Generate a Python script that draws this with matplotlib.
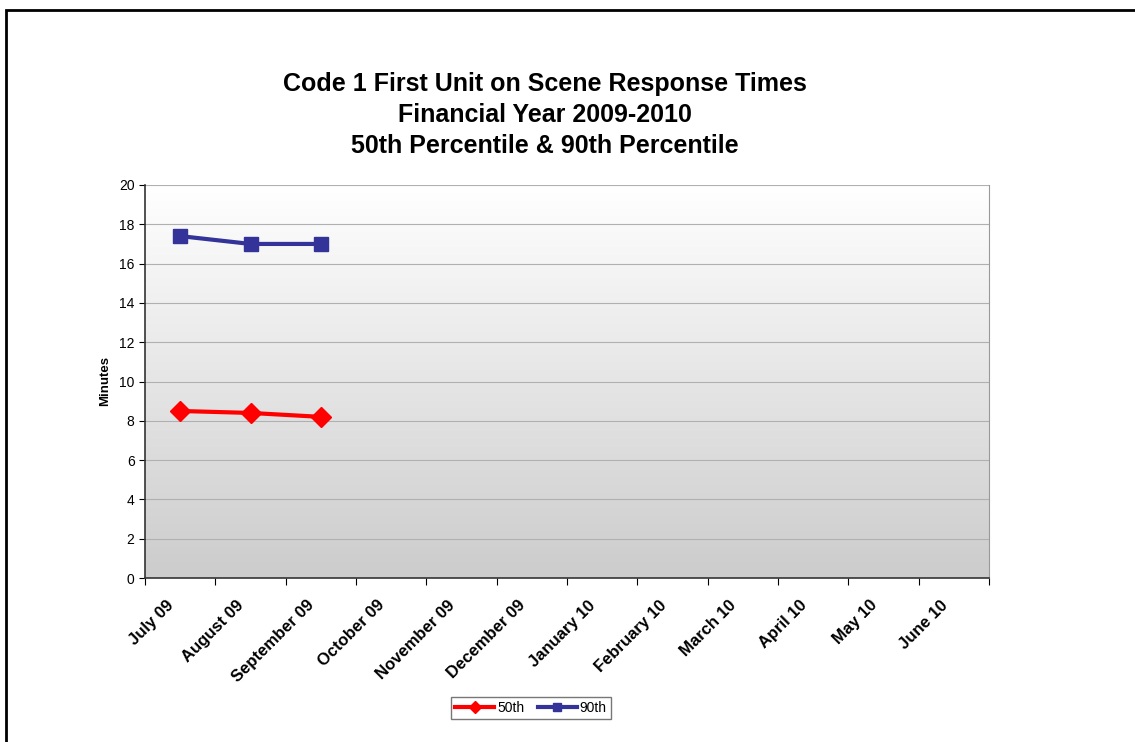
import numpy as np
import matplotlib.pyplot as plt
from matplotlib.patches import Rectangle
from matplotlib.colors import LinearSegmentedColormap
from matplotlib.transforms import ScaledTranslation

# Data
months = ["July 09", "August 09", "September 09", "October 09", "November 09",
          "December 09", "January 10", "February 10", "March 10", "April 10",
          "May 10", "June 10"]
p50 = [8.5, 8.4, 8.2]
p90 = [17.4, 17.0, 17.0]

W, H = 1135, 742
plt.rcParams['font.family'] = ['Liberation Sans', 'DejaVu Sans']
fig = plt.figure(figsize=(W / 100, H / 100), dpi=100)

# outer frame (only top and left visible in the crop)
fig.patches.append(Rectangle((6 / W, -0.1), 1.2, 1 - 10 / H + 0.1,
                             transform=fig.transFigure, fill=False,
                             edgecolor='black', linewidth=2))

ax = fig.add_axes([145 / W, 1 - 578 / H, (989 - 145) / W, (578 - 185) / H])

# gradient background, white at top to grey at bottom
grad = np.linspace(0, 1, 256).reshape(-1, 1)
ax.imshow(grad, extent=[0, len(months), 0, 20], aspect='auto',
          cmap=LinearSegmentedColormap.from_list('g', ['#cccccc', '#ffffff']),
          origin='lower', zorder=0)

ax.set_xlim(0, len(months))
ax.set_ylim(0, 20)
ax.set_yticks(range(0, 21, 2))
ax.yaxis.grid(True, color='#b0b0b0', linewidth=0.8)
ax.set_axisbelow(True)

ax.set_xticks(range(0, len(months) + 1))
ax.set_xticklabels([])
ax.set_xticks(np.arange(len(months)) + 0.5, minor=True)
ax.set_xticklabels(months, minor=True, rotation=45, ha='right',
                   rotation_mode='anchor', fontsize=12, fontweight='bold')
ax.tick_params(axis='x', which='minor', length=0, pad=12)
ax.tick_params(axis='x', which='major', length=5, direction='out', color='black')
ax.tick_params(axis='y', length=4, labelsize=10, color='black')

# nudge the rotated labels to the left like the original
shift = ScaledTranslation(-14 / 100, -3 / 100, fig.dpi_scale_trans)
for lbl in ax.get_xticklabels(minor=True):
    lbl.set_transform(lbl.get_transform() + shift)

for s in ['left', 'bottom']:
    ax.spines[s].set_color('#333333')
    ax.spines[s].set_linewidth(1.2)
ax.spines['top'].set_visible(False)
ax.spines['right'].set_color('#999999')

x = np.arange(len(p50)) + 0.5
ax.plot(x, p50, color='#ff0000', marker='D', markersize=10, linewidth=3,
        label='50th', zorder=3)
ax.plot(x, p90, color='#333399', marker='s', markersize=10, linewidth=3,
        label='90th', zorder=3)

ax.set_ylabel('Minutes', fontsize=9.5, fontweight='bold', labelpad=6)

fig.text(545 / W, 1 - 115 / H,
         "Code 1 First Unit on Scene Response Times\nFinancial Year 2009-2010\n50th Percentile & 90th Percentile",
         ha='center', va='center', fontsize=18, fontweight='bold', linespacing=1.36)

leg = fig.legend(loc='center', bbox_to_anchor=(531 / W, 1 - 708 / H), ncol=2,
                 fontsize=10, frameon=True, fancybox=False, edgecolor='#555555',
                 handlelength=2.8, handletextpad=0.2, columnspacing=1.0,
                 borderpad=0.3, markerscale=0.6)
leg.get_frame().set_linewidth(1)

fig.savefig('out.png', dpi=100)
